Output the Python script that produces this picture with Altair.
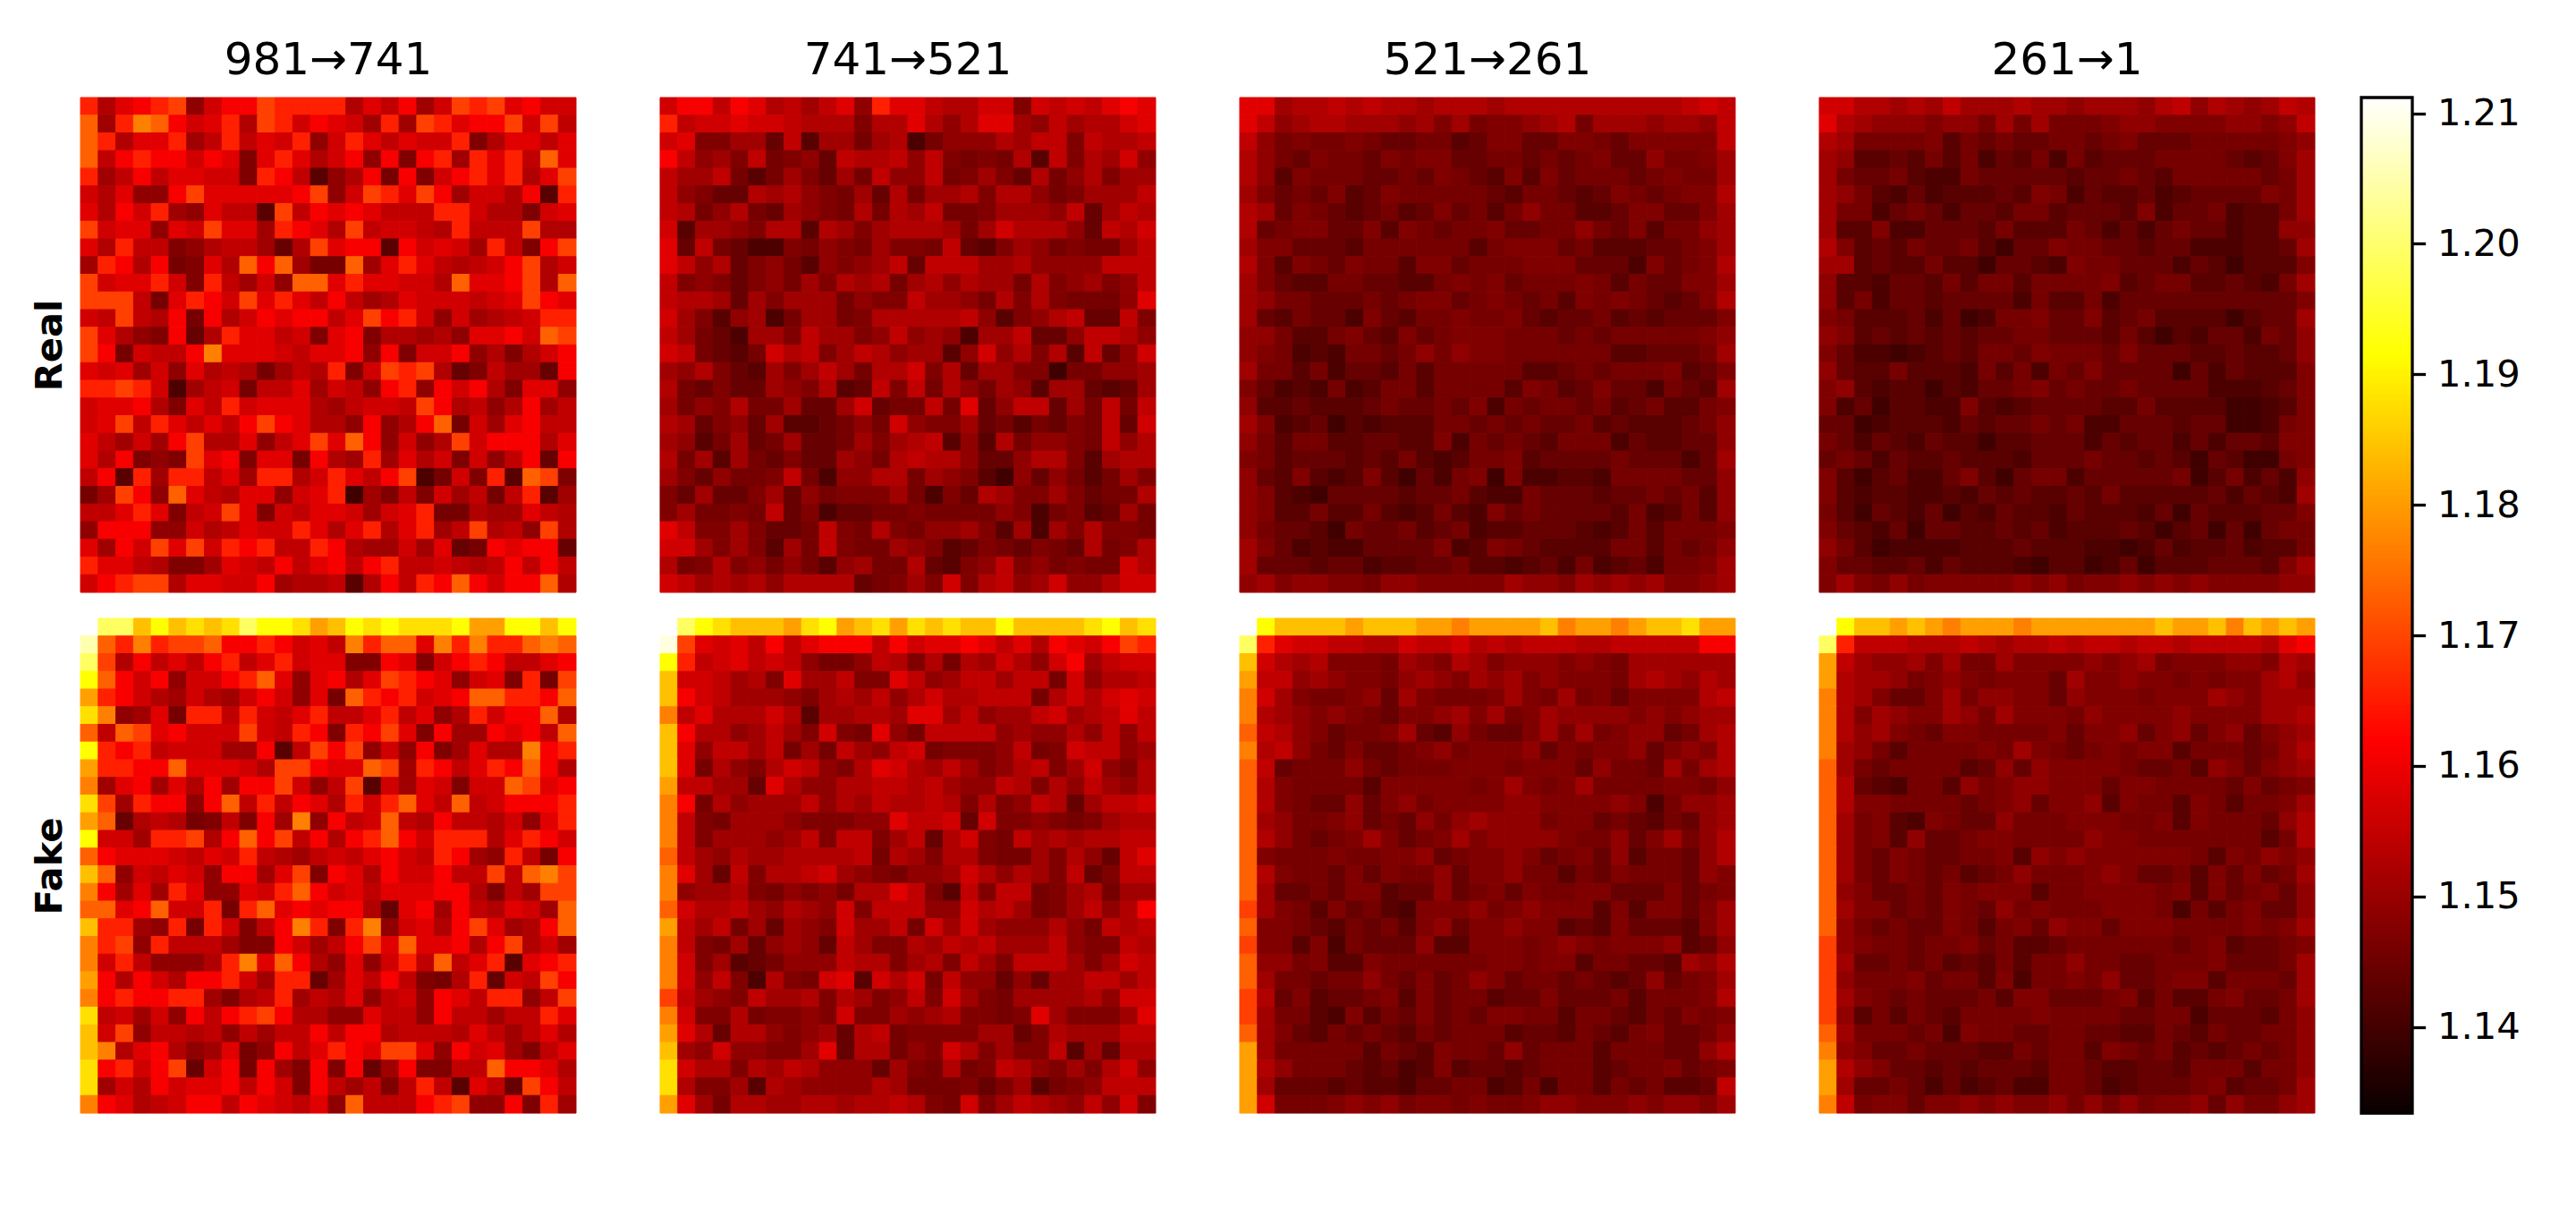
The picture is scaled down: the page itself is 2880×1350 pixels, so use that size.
import altair as alt
import numpy as np
import pandas as pd

alt.data_transformers.disable_max_rows()

# Colour limits and ticks
VMIN = 1.1334
VMAX = 1.2112
TICKS = [1.14, 1.15, 1.16, 1.17, 1.18, 1.19, 1.20, 1.21]
COLS = ["981→741", "741→521", "521→261", "261→1"]
ROWS = ["Real", "Fake"]

# value estimated for each letter used in the grids below
LEVELS = {
    "3": 1.1396, "4": 1.1410, "5": 1.1425, "6": 1.1441, "7": 1.1458, "8": 1.1470,
    "9": 1.1489, "a": 1.1508, "b": 1.1526, "c": 1.1545, "d": 1.1563, "e": 1.1582,
    "f": 1.1610, "g": 1.1655, "h": 1.1692, "i": 1.1729, "j": 1.1766, "k": 1.1804,
    "l": 1.1841, "m": 1.1878, "n": 1.1914, "o": 1.1989, "p": 1.2051, "r": 1.2088,
    "q": 1.2112,
}

real_981 = """gbefgh9dff hggggbecfa dhghefdd
iagjifdegb hgdfedagah geffhdhc
igbeegacgc edg9dgeced dg8beece
icfgffdfe8 egebdf9f8f gagegcie
gacfceedd8 gfc59bf7f8 dfgegbeh
dbe99fheee eefh9dhgeh faddbf5g
ebfdga9ecc 5hcfefeccc ggdbb8de
hdee9edhee agfebhcddc bgccchbb
ebgcc89bcc a6bheff5fd edagc8fh
agfbf78ebi fia77iaege cbcdfhbd
hdeegd8gca d9iiegeedd bieefhbi
hhhc7egfdh egecfcabed ddcdehfe
dchcbf7fbd feffcehfgd 9dabcdgg
heb98f6bge ecd8ef8bba b9eefdih
hf7dccfjee edceef9f8d df9b8bdf
edead9ebcb 7acbg8dhgh b68caa6f
gghgd4acd7 cceadc9fg9 fdfb8ee9
deefb8ecgd eeebacddch fbc9bfac
dehcgececf hfebb9f9bf i7daefcc
ecadafhbbe 9ceheif9d9 bhdfffbe
ebf898hef8 ee7fbagaeb d8d9cf6f
cf5gaggcea ggbdgecfh4 7d8g5ih8
7ahf9iecbe e9deg3a8c8 dac7cg5a
ccege8cdhe 8dceedadeg 77baaecb
9fff99dbce ddgebegbeg achbc9hb
eafdhehdgf gccgfbaada e67feff6
geecb88aed cfcefcfgcc dcbcfcfc
dfghhbeedd fabbc5bfcg fifdffib"""

fake_981 = """qoolnlmlmo nnmklnmnmm mnkknnln
pigjghhiff gfdecjgiie jgjggiji
ohbfcecfgc egdee88fe8 dfgfccef
nifdf9ddfg ie9efbehgf e9de8g7h
kgfdbadbad fd9e7igfgd efiiggfi
mj9ae7ggcg dcegccegce 9bgdffib
icihefdddh dcgf8gfhe8 faafefci
ngfgcdddaa f5chfh9d9f 8aebbjfg
kggffieeed bhhfeeihag fcegfifb
jaefaebfaf fhd9ch5dae d8ddihef
mhagff9fic gcfebgdgie cicdfffg
ki6bcb78c8 faj9fcdicb fccbd9eg
nddagghbfi fhcfbfgifd gggbegfd
ifeeedcedg cbacdcefdc gfa9gc7f
li9dced9ff aeh8febfdd fcchcijh
jfaeage99e dgifdeceee ffb8cahh
iiefiddg7g iefeffb6ef afcbedai
lgga9g7gd8 cfjg8gj9de bfheabfi
jgh9gccca8 8fdacfheie efbfhbda
jdgc999bgj eifb9e9dgc iceg5efg
kfbfdbffgd agg6aecfc8 7bg6dchf
jfgffgga8b cgacbe9cd9 fecgg9ch
mcdad9fcfg hfbb99ecc9 fccaccge
ldh9ccbc9c accfcffbcc cbecaceb
ljbefb9ae7 9fcegfehhe 9fdea8ce
mfgdfh6df7 fa8f8f6af8 8cciffeb
madbfdeefc fd8fcac8cg c5ec6hfc
jfebcdffcf edce9icccf gh99f8ga"""

real_741 = """dffcfebcac e9geecbbdd 8dcdcefe
gcddeddcbb b8bbeb9bee a9cabbde
de88aa6c5a a7ab47999b acc8cbbc
fc9a8c7896 cbbc9c8787 b5c8bad9
caac757a86 a7c99c78a8 6b79b8aa
c9866bab98 7a6b7aab8b b978aaac
cb79b76a98 7b7bac778a aa9c6acb
d5aa98bb5b a8abbba7ad bbb96cbd
e6c7644879 87a887c658 a97877ac
ec9b689759 89ac6cccaa b9999ccc
c8986897a8 bab7ab9baa 7b89a89c
cbba6a8aaa 7988caa97b 8b87779e
da859a47aa 78bbbbbc95 89bc66c8
ca764aa8ca a89c9a94aa c669ccb9
dc7657dbc8 acb9aa59d9 b8b5c69d
a9b865a8ac a7bbd8b6aa 8837799a
b76866a98b 56c8c7b97a 95aa656a
a798b77a66 ad677c7e69 cc6a7c7c
ba6896a556 797d988a67 57687c6d
a957a67a66 7a8abc595b 79987c9b
b7a5a76866 a97bcbb966 9bb85abb
a869778c74 99bb7a9853 969757a8
86a668a697 888a7486ba 88a8677b
8a7787c684 6677877779 847856a7
ec88a8667c 87b8799a85 a4a8b887
dda8a85a7c 877a985687 6876b78b
b78b897975 9a77b6589c 897877db
dcabab9bbb b678a8d8bc 9ad99bdd"""

fake_741 = """qonmlllkmn klmkmlmlln llllmnlm
rhedecfcef ffcfdeefec ebfedfhg
ngcdecdc97 79cb8b7bad b9dfacdd
lddcab8eaa c88ec9acca cc7d9bbc
lfdcaaa98a bac9bdbbcc c7bdbded
jcebbbdb5a abbaeeac9a acdabcec
lfbb9aca8d 87e97cccc9 a99b9c9c
le9ccac7a7 ca9cd78889 c78dcc9a
le7b98bdc9 8bedbaca89 bc8ad98b
kccaa6eb99 bbccbca99c b8b9ca9b
jf7b9aaac9 bacbbcb8b8 9cb6accd
jc87aaa988 899eccd6d8 89878abb
jc8aaa9ac8 cc8ac6bd87 cababbcc
ica9baabbb bc7ba8bb87 7a8b96ce
jea6c8bbcd a98799adb9 ba8c68cc
j9aab87989 7bbec85c8c c78ab7aa
idbbca9ba9 d8ccc99dbc a78ac9bf
kcac7a6a98 daac7dada9 99b97cbc
jc87a69a96 ca88bacbca aac988cb
jd8a567999 cbb8ab8ca8 ccca8adc
jd9c84b87d e5dbd7c996 96aaccac
hca98caab8 ba89c8da87 aaaab9dd
jd88b78898 d88a9ab887 8ea888ae
keb6bb989a 6bc78888aa 68baaacc
la9d9988ae 6bb798db8a 88c5a6bb
mdbb8bacb9 996a87b78c b98a8bd9
mb88a5ba99 99ba777868 a5789ccc
kea7bbaabb abbcb87d8a cba9c9d8"""

real_521 = """eeabbcbcbb abbbabbbbb bbbbbcdc
ec9abbaaa9 a8a7889ab7 aaa9aa9c
c978778766 7756886688 7688888c
b976877687 8866776767 8669778a
b958777667 6876585867 7767877a
a867685687 7777657765 6876788b
ba68765675 6867579775 5688668a
b678866858 7677866779 7685779a
a886665777 7775788867 5556678a
b858768775 8867778886 6648678b
a865577665 5787867778 7576688a
a977666767 8867876758 7876568b
a657664865 7787786566 75656668
9975578658 6788877767 67777789
9874547767 9798877777 7556667a
a775746657 5777775567 67778568
8645474577 5777758756 8664765a
9556555676 6768476776 75675578
a845635455 5776767667 56555679
9757755665 5847676577 74655669
8756665657 5457785666 6766646a
9658545853 6478384455 47777669
9854366665 6675447666 56676759
9855755754 5754867666 65745759
9766537667 5674556665 45757778
a864544666 6845876555 57757679
a666566455 6675545647 4564778a
9a89988799 88888a998a 9a9a889a"""

fake_521 = """qnllllklll kkjkkkkljk kjkllmkk
ogeddccbbd ccdbcbcccb bcccccff
ldbab8887a 98ba899989 87aaaaaa
kcc9a98879 a98a9a8988 87aba9ba
jda877896a 87778a87a7 868888bc
jba9898768 89a8a78a99 998989aa
icb986778a 6597668a7a 789967ab
jbc9768667 8978889687 8896898b
ic67779767 7788878886 9776a7ab
ib87777588 88878a878a 77778879
ib87669689 7888899888 8984799a
ia97789676 979a999788 6765769a
ib97678a86 78a8999987 7968a79b
i877787788 9678898678 6957769b
ib87768687 7968897757 68777698
ia66768856 6967868778 86668678
ha87586754 8889789888 5858868a
i887657675 8968898856 5866658a
h885847666 9558887898 78889569
i997855877 7777887885 77665a9b
ia77677976 8679867767 6569678a
hb68566785 8677566866 6757778b
ha77548576 8676887757 76576878
ia86576765 7677756657 65786679
ka77777576 5877696777 5777669b
kb97776564 5856656777 56778678
ka66656554 6677457477 5767556c
kd77789897 8878778998 8898998a"""

real_261 = """ddbbabacaa abaa9aaa9b c9ba9acb
eba9998997 a7a7778998 8889989c
ba77778576 7667767866 67777789
a955657574 6574756667 7776568a
a766754476 6666566765 7777767a
a975464555 6587465564 5666687a
a774676466 5775666584 6674557a
a558446665 7555764646 76645599
b856576675 3668776656 6444556a
aa56557553 6654877666 46535558
9554665757 7577778567 7556547a
9574665666 6475574666 66666668
8755564634 7786685675 5553566a
9856565656 6776665753 54664769
8644345657 7687776866 65565569
9655755547 5747686666 36465558
8954553546 6786766766 66444568
8463554485 4566665575 55533458
6634555465 6676744666 56633478
7646546553 5566646566 46466588
6764655655 5466676656 53653378
8535644685 3677466666 73574649
8545544546 5655657555 5564654a
7536546354 6554655546 36555668
8654636655 6564555653 56363677
9753444455 5655544346 45564557
8665564655 5435534635 5566658a
8a87978888 8989788989 89888899"""

fake_261 = """qnllklkjkk kjkkkkkkkl kkljlklk
ogcccbbbcb abbcbccbcc bccccbef
kca99a8a77 a8888989a7 888998ba
kbaa978987 8886a88988 78788ab9
jba8668a79 9886988878 88a98aaa
jb8a988a97 a888798888 98888aab
jb9a876887 7778688968 9689689a
ja97577778 7a87678788 5777679b
ia76777756 9698888766 7598689a
ib65477597 8998886887 77768678
ib88777767 8968895877 5875778a
ia78548766 9777888778 5877769b
ia78596678 8777798877 7777757b
ia76876677 8598988888 87587989
ia76876756 7977789866 7586867a
i986676878 8857788887 85867869
ia88676876 9787778887 47578669
i976766875 7869886888 7777878a
h987767786 7556777777 67856678
ha66767565 7577977667 7786667a
h977786775 8477879667 8857776a
ha87676667 5886667857 5578667a
h957576577 7787777667 74666579
ia77767487 7667766557 65766779
j986676665 5767758767 56567679
kb98665656 6657765566 57775779
ka66764645 6447764566 6785667a
jc78868898 9889797978 8969779a"""

GRIDS = [[real_981, real_741, real_521, real_261],
         [fake_981, fake_741, fake_521, fake_261]]

N = 28
FONT = "DejaVu Sans"
color_scale = alt.Scale(
    domain=[VMIN, 1.1618, 1.1914, VMAX],
    range=["#0b0000", "#ff0000", "#ffff00", "#ffffff"],
    interpolate="rgb", clamp=True,
)


def frame(grid):
    rows = []
    for r, line in enumerate(grid.splitlines()):
        line = line.replace(" ", "")
        line = (line + line[-1] * N)[:N]
        for c, ch in enumerate(line):
            rows.append({"r": r, "c": c, "v": LEVELS[ch]})
    return pd.DataFrame(rows)


def panel(grid, title=None, ylabel=None):
    if ylabel:
        yaxis = alt.Axis(title=ylabel, labels=False, ticks=False, domain=False, grid=False,
                         titleFont=FONT, titleFontSize=41.67, titleFontWeight="bold",
                         titleColor="black", titlePadding=13)
    else:
        yaxis = None
    band = alt.Scale(paddingInner=0, paddingOuter=0, round=False)
    ch = alt.Chart(frame(grid)).mark_rect(strokeWidth=1).encode(
        x=alt.X("c:O", axis=None, scale=band),
        y=alt.Y("r:O", axis=yaxis, scale=band),
        color=alt.Color("v:Q", scale=color_scale, legend=None),
        stroke=alt.Color("v:Q", scale=color_scale, legend=None),
    )
    props = dict(width=554, height=553)
    if title:
        props["title"] = alt.TitleParams(text=title, font=FONT, fontSize=50, fontWeight="normal",
                                         offset=16, color="black")
    return ch.properties(**props)


top = alt.hconcat(*[panel(GRIDS[0][i], title=COLS[i], ylabel=ROWS[0] if i == 0 else None)
                    for i in range(4)], spacing=92)
bottom = alt.hconcat(*[panel(GRIDS[1][i], ylabel=ROWS[1] if i == 0 else None)
                       for i in range(4)], spacing=92)
grid_block = alt.vconcat(top, bottom, spacing=27)

steps = pd.DataFrame({"v": np.linspace(VMIN, VMAX, 400)})
steps["top"] = VMAX
cb_scale = alt.Scale(domain=[VMIN, VMAX], nice=False, zero=False)
cb_axis = alt.Axis(orient="right", values=TICKS, format=".2f", title=None, domain=False, grid=False,
                   tickSize=14.6, tickWidth=3.3, tickColor="black", labelFont=FONT,
                   labelFontSize=41.67, labelColor="black", labelPadding=13, labelOverlap=False)
cb_fill = alt.Chart(steps).mark_rect().encode(
    y=alt.Y("v:Q", scale=cb_scale, axis=cb_axis), y2="top:Q", x=alt.value(0), x2=alt.value(57),
    color=alt.Color("v:Q", scale=color_scale, legend=None),
)
edge = pd.DataFrame({"v": [VMIN], "top": [VMAX]})
cb_edge = alt.Chart(edge).mark_rect(filled=False, stroke="black", strokeWidth=3.3).encode(
    y=alt.Y("v:Q", scale=cb_scale, axis=cb_axis),
    y2="top:Q", x=alt.value(0), x2=alt.value(57),
)
colorbar = alt.layer(cb_fill, cb_edge).properties(
    width=57, height=1135,
    title=alt.TitleParams(text=" ", font=FONT, fontSize=50, fontWeight="normal", offset=16),
)

chart = alt.hconcat(grid_block, colorbar, spacing=49).properties(
    padding={"left": 27, "top": 32, "right": 5, "bottom": 5},
    background="white",
).configure_view(stroke=None)

chart.save("out.html", embed_options={"renderer": "svg", "actions": False})
